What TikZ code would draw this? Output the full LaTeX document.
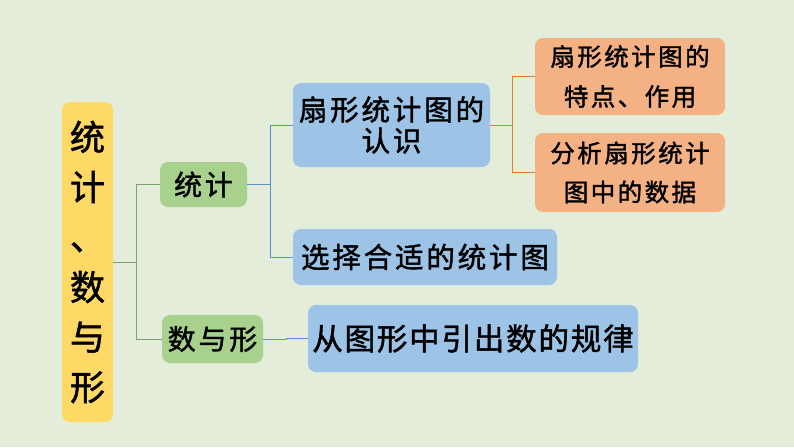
\documentclass[tikz,border=0pt]{standalone}
\usepackage{fontspec}
\newfontfamily\cjk{Noto Sans CJK SC}[FakeBold=1.5]
\newfontfamily\cjkA{Noto Sans CJK SC}[LetterSpace=10,FakeBold=1.5]
\newfontfamily\cjkB{Noto Sans CJK SC}[LetterSpace=6,FakeBold=1.5]
\definecolor{bg}{HTML}{E4EDDA}
\definecolor{ybox}{HTML}{FFD966}
\definecolor{gbox}{HTML}{A9D18E}
\definecolor{bbox}{HTML}{9DC3E6}
\definecolor{obox}{HTML}{F4B183}
\definecolor{gline}{HTML}{7FA070}
\definecolor{bline}{HTML}{5B8FCF}
\definecolor{oline}{HTML}{E07A3A}
\tikzset{
  boxbase/.style={rounded corners=8pt, inner sep=0pt, align=center, text=black},
  ystyle/.style={boxbase, fill=ybox},
  gstyle/.style={boxbase, fill=gbox},
  bstyle/.style={boxbase, fill=bbox},
  ostyle/.style={boxbase, fill=obox},
  glink/.style={draw=gline, line width=0.9pt},
  blink/.style={draw=bline, line width=0.9pt},
  olink/.style={draw=oline, line width=0.9pt},
}
\begin{document}
\begin{tikzpicture}[x=1pt,y=-1pt]
\fill[bg] (0,0) rectangle (794,447);
\useasboundingbox (0,0) rectangle (794,447);
\node[ystyle, minimum width=51pt, minimum height=320pt, font=\cjk\fontsize{35}{50}\selectfont] (Y) at (87.5,262) {统\\计\\、\\数\\与\\形};
\node[gstyle, minimum width=87pt, minimum height=45pt, font=\cjkA\fontsize{28}{30}\selectfont] (G1) at (203.5,184.5) {统计};
\node[gstyle, minimum width=101pt, minimum height=48pt, font=\cjkA\fontsize{28}{30}\selectfont] (G2) at (212.5,339) {数与形};
\node[bstyle, minimum width=197pt, minimum height=84pt, font=\cjkA\fontsize{28.5}{31}\selectfont] (B1) at (391.5,125) {扇形统计图的\\认识};
\node[bstyle, minimum width=264pt, minimum height=56pt, font=\cjkA\fontsize{28.5}{31}\selectfont] (B2) at (425,257) {选择合适的统计图};
\node[bstyle, minimum width=330pt, minimum height=67pt, font=\cjkB\fontsize{30.5}{32}\selectfont] (B3) at (473,338.5) {从图形中引出数的规律};
\node[ostyle, minimum width=190pt, minimum height=77pt, font=\cjkA\fontsize{24.5}{40}\selectfont] (O1) at (630,76.5) {扇形统计图的\\特点、作用};
\node[ostyle, minimum width=190pt, minimum height=79pt, font=\cjkA\fontsize{24.5}{39}\selectfont] (O2) at (630,172.5) {分析扇形统计\\图中的数据};
\coordinate (j1) at (136,262);
\coordinate (j2) at (270,184.5);
\coordinate (j3) at (512,125);
\coordinate (j4) at (286,339);
\draw[glink] (Y.east) -- (j1);
\draw[glink] (G1.west) -- (G1.west -| j1) |- (G2.west);
\draw[blink] (G1.east) -- (j2);
\draw[blink] (B1.west) -- (B1.west -| j2) |- (B2.west);
\draw[olink] (B1.east) -- (j3);
\draw[olink] (O1.west) -- (O1.west -| j3) |- (O2.west);
\draw[blink] (G2.east) -- (j4) |- (B3.west);
\end{tikzpicture}
\end{document}
